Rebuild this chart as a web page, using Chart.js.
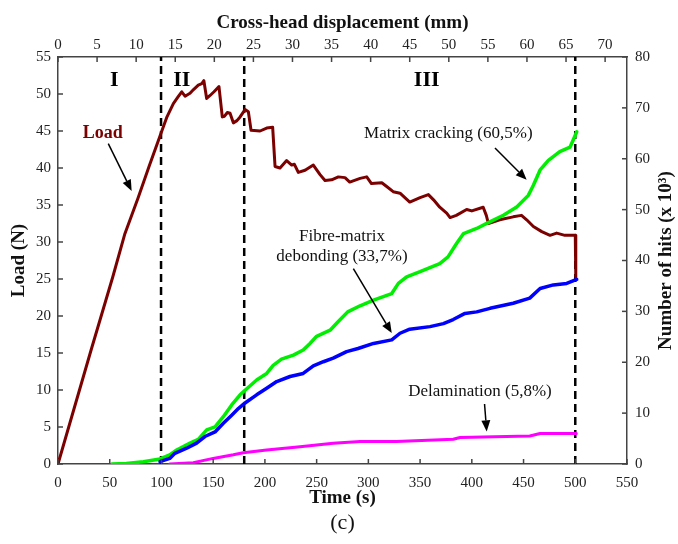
<!DOCTYPE html>
<html>
<head>
<meta charset="utf-8">
<script src="https://cdn.jsdelivr.net/npm/chart.js@4.4.1/dist/chart.umd.min.js"></script>
<style>
  html, body { margin: 0; padding: 0; background: #fff; }
  canvas { display: block; }
</style>
</head>
<body>
<canvas id="chart" width="678" height="544"></canvas>
<script>
// load curve (time in s, load in N)
const loadTime = [0, 32, 53, 64.4, 77.3, 88, 99.3, 105, 111.5, 116, 119.6, 122.8, 127.6, 131, 135.6, 139, 141,
  143.7, 147, 150.8, 155.6, 158.8, 161, 163.7, 166.3, 169.5, 173, 176, 180.8, 184, 186.6, 195.3, 201.7, 207.5,
  209.8, 214.6, 221, 225.9, 228.5, 232.3, 238.8, 246.8, 253.3, 258.1, 264.5, 271, 277.4, 282, 292, 298.4, 303,
  313, 317.7, 324, 330.6, 340, 350, 358, 363, 369, 375.7, 379, 385, 395, 400, 411, 414, 416, 427, 440, 448, 453,
  459.5, 467.6, 475.6, 482, 490, 500, 500.5]
const loadN = [0, 15.4, 25.3, 31.0, 35.9, 40.2, 44.6, 46.8, 48.7, 49.6, 50.3, 49.7, 50.1, 50.6, 51.2, 51.4, 51.8,
  49.4, 49.8, 50.3, 51.0, 46.9, 47.0, 47.5, 47.4, 46.1, 46.4, 46.9, 47.9, 47.6, 45.1, 45.0, 45.4, 45.5,
  40.2, 40.0, 41.0, 40.4, 40.5, 39.4, 39.7, 40.4, 39.1, 38.3, 38.4, 38.8, 38.7, 38.1, 38.6, 38.8, 37.9,
  38.0, 37.5, 36.8, 36.6, 35.4, 36.0, 36.4, 35.7, 34.7, 33.9, 33.3, 33.6, 34.4, 34.2, 34.7, 33.6, 32.5, 33.0, 33.4, 33.6, 33.0,
  32.1, 31.4, 30.9, 31.2, 30.9, 30.9, 25.3]

// acoustic emission hits (x 10^3)
const crackTime = [52, 66, 82.5, 98.6, 108, 114.7, 127.6, 135.6, 143.7, 151.8, 159.8, 167.9, 176, 180.8, 192, 201.7,
  208, 216, 227.5, 237, 243.6, 250, 263, 270, 280, 292, 305, 322.6, 329, 337, 350, 369, 377, 385.4, 392, 404.7,
  414.4, 430.5, 443.4, 454.6, 459.5, 466, 474, 485, 495, 498, 501.4]
const crackHits = [0, 0.1, 0.45, 1.0, 1.8, 2.75, 4.1, 4.85, 6.7, 7.3, 9.3, 11.6, 13.6, 14.5, 16.5, 17.8,
  19.4, 20.6, 21.4, 22.4, 23.7, 25.1, 26.3, 27.8, 29.9, 31.1, 32.2, 33.5, 35.5, 36.8, 37.8, 39.4, 40.7, 43.4, 45.3, 46.3,
  47.3, 48.9, 50.5, 52.8, 54.8, 57.8, 59.7, 61.4, 62.3, 63.7, 65.3]

const debondTime = [98.6, 108, 113, 124.4, 134, 142, 151.8, 159.8, 167.9, 174.3, 180.8, 192, 201.7, 211.4, 224.3, 237,
  246.8, 256.5, 266, 279, 290, 305, 322.6, 330.6, 340, 359.6, 372.5, 382, 393.4, 404.7, 417.6, 440, 456, 466,
  478.8, 491.7, 501.4]
const debondHits = [0.45, 1.1, 2.1, 3.1, 4.1, 5.4, 6.3, 8.0, 9.6, 10.9, 12.0, 13.6, 14.9, 16.2, 17.2, 17.8,
  19.3, 20.1, 20.8, 22.1, 22.7, 23.7, 24.4, 25.7, 26.5, 27.0, 27.6, 28.4, 29.6, 29.9, 30.6, 31.6, 32.6, 34.5,
  35.2, 35.5, 36.3]

const delamTime = [108, 130.8, 150, 169.5, 179, 201.7, 234, 266, 292, 327, 382, 388.6, 456, 466, 501]
const delamHits = [0, 0.26, 1.1, 1.8, 2.2, 2.75, 3.4, 4.1, 4.4, 4.4, 4.85, 5.2, 5.5, 6.0, 6.0]

// stage boundaries (s)
const stageTimes = [99.6, 180, 500]

// annotations, in data units (time, load)
const notes = [
  { text: "I", t: 54.5, v: 51.9, font: "bold 22px 'Liberation Serif'", color: "#000" },
  { text: "II", t: 119.6, v: 51.9, font: "bold 22px 'Liberation Serif'", color: "#000" },
  { text: "III", t: 356.4, v: 51.9, font: "bold 22px 'Liberation Serif'", color: "#000" },
  { text: "Load", t: 43.2, v: 44.7, font: "bold 18px 'Liberation Serif'", color: "#7b0000" },
  { text: "Matrix cracking (60,5%)", t: 377.3, v: 44.7, font: "17px 'Liberation Serif'", color: "#111" },
  { text: "Fibre-matrix", t: 274.5, v: 30.8, font: "17px 'Liberation Serif'", color: "#111" },
  { text: "debonding (33,7%)", t: 274.5, v: 28.1, font: "17px 'Liberation Serif'", color: "#111" },
  { text: "Delamination (5,8%)", t: 407.9, v: 9.8, font: "17px 'Liberation Serif'", color: "#111" },
]
const arrows = [
  { t0: 48.6, v0: 43.3, t1: 71.2, v1: 36.9 },
  { t0: 422.4, v0: 42.7, t1: 453, v1: 38.4 },
  { t0: 285.5, v0: 26.4, t1: 322.6, v1: 17.7 },
  { t0: 412.3, v0: 8.1, t1: 414.4, v1: 4.4 },
]

const pts = (xs, ys) => xs.map((x, i) => ({ x, y: ys[i] }))

const serif = "'Liberation Serif', 'Times New Roman', serif"
const tickFont = { family: serif, size: 15 }
const titleFont = { family: serif, size: 19, weight: "bold" }
const axisColor = "#444"

const innerTicks = {
  id: "innerTicks",
  afterDatasetsDraw(chart) {
    const ctx = chart.ctx
    const area = chart.chartArea
    ctx.save()
    ctx.strokeStyle = axisColor
    ctx.lineWidth = 1.5
    Object.values(chart.scales).forEach((scale) => {
      scale.ticks.forEach((tk, i) => {
        const p = scale.getPixelForTick(i)
        ctx.beginPath()
        if (scale.position === "bottom") { ctx.moveTo(p, area.bottom); ctx.lineTo(p, area.bottom - 5) }
        if (scale.position === "top") { ctx.moveTo(p, area.top); ctx.lineTo(p, area.top + 5) }
        if (scale.position === "left") { ctx.moveTo(area.left, p); ctx.lineTo(area.left + 5, p) }
        if (scale.position === "right") { ctx.moveTo(area.right, p); ctx.lineTo(area.right - 5, p) }
        ctx.stroke()
      })
    })
    ctx.restore()
  },
}

const annotate = {
  id: "annotate",
  afterDraw(chart) {
    const ctx = chart.ctx
    const xs = chart.scales.x
    const ys = chart.scales.y
    const area = chart.chartArea
    ctx.save()
    ctx.textAlign = "center"
    ctx.textBaseline = "middle"
    notes.forEach((n) => {
      ctx.font = n.font
      ctx.fillStyle = n.color
      ctx.fillText(n.text, xs.getPixelForValue(n.t), ys.getPixelForValue(n.v))
    })
    ctx.strokeStyle = "#000"
    ctx.fillStyle = "#000"
    ctx.lineWidth = 1.5
    arrows.forEach((a) => {
      const x0 = xs.getPixelForValue(a.t0), y0 = ys.getPixelForValue(a.v0)
      const x1 = xs.getPixelForValue(a.t1), y1 = ys.getPixelForValue(a.v1)
      const ang = Math.atan2(y1 - y0, x1 - x0)
      const hl = 11, hw = 4.5
      ctx.beginPath()
      ctx.moveTo(x0, y0)
      ctx.lineTo(x1 - hl * Math.cos(ang), y1 - hl * Math.sin(ang))
      ctx.stroke()
      ctx.beginPath()
      ctx.moveTo(x1, y1)
      ctx.lineTo(x1 - hl * Math.cos(ang) + hw * Math.sin(ang), y1 - hl * Math.sin(ang) - hw * Math.cos(ang))
      ctx.lineTo(x1 - hl * Math.cos(ang) - hw * Math.sin(ang), y1 - hl * Math.sin(ang) + hw * Math.cos(ang))
      ctx.closePath()
      ctx.fill()
    })
    // right axis title reads bottom-to-top like the left one
    ctx.save()
    ctx.translate(chart.width - 12, (area.top + area.bottom) / 2)
    ctx.rotate(-Math.PI / 2)
    ctx.font = "bold 19px " + serif
    ctx.fillStyle = "#111"
    ctx.fillText("Number of hits (x 10³)", 0, 0)
    ctx.restore()
    ctx.font = "22px " + serif
    ctx.fillStyle = "#111"
    ctx.fillText("(c)", (area.left + area.right) / 2, chart.height - 21)
    ctx.restore()
  },
}

const stageLines = stageTimes.map((t) => ({
  data: [{ x: t, y: 0 }, { x: t, y: 55 }],
  borderColor: "#000",
  borderWidth: 2.5,
  borderDash: [8, 5],
  xAxisID: "x",
  yAxisID: "y",
}))

const curve = (xs, ys, color, width, axis) => ({
  data: pts(xs, ys),
  borderColor: color,
  borderWidth: width,
  xAxisID: "x",
  yAxisID: axis,
  borderJoinStyle: "round",
  borderCapStyle: "round",
})

const noGrid = { display: false, drawTicks: false }

new Chart(document.getElementById("chart"), {
  type: "line",
  data: {
    datasets: [
      curve(delamTime, delamHits, "#ff00ff", 3, "y1"),
      curve(debondTime, debondHits, "#0000ff", 3.5, "y1"),
      curve(crackTime, crackHits, "#00ee00", 3.5, "y1"),
      curve(loadTime, loadN, "#7b0000", 3, "y"),
      ...stageLines,
    ],
  },
  options: {
    animation: false,
    responsive: false,
    devicePixelRatio: 1,
    elements: { point: { radius: 0 }, line: { tension: 0 } },
    layout: { padding: 0 },
    plugins: {
      legend: { display: false },
      tooltip: { enabled: false },
    },
    scales: {
      x: {
        type: "linear",
        position: "bottom",
        min: 0,
        max: 550,
        ticks: { stepSize: 50, font: tickFont, color: "#222", padding: 10, maxRotation: 0 },
        grid: noGrid,
        border: { color: axisColor, width: 1.5 },
        title: { display: true, text: "Time (s)", font: titleFont, color: "#111", padding: { top: 0, bottom: 35 } },
        afterFit: (s) => { s.height = 80 },
      },
      x2: {
        type: "linear",
        position: "top",
        min: 0,
        max: 72.8,
        ticks: { stepSize: 5, includeBounds: false, font: tickFont, color: "#222", padding: 3, maxRotation: 0 },
        grid: noGrid,
        border: { color: axisColor, width: 1.5 },
        title: { display: true, text: "Cross-head displacement (mm)", font: titleFont, color: "#111", padding: { top: 12, bottom: 0 } },
        afterFit: (s) => { s.height = 57 },
      },
      y: {
        type: "linear",
        position: "left",
        min: 0,
        max: 55,
        ticks: { stepSize: 5, font: tickFont, color: "#222", padding: 7 },
        grid: noGrid,
        border: { color: axisColor, width: 1.5 },
        title: { display: true, text: "Load (N)", font: titleFont, color: "#111", padding: { top: 8, bottom: 0 } },
        afterFit: (s) => { s.width = 58 },
      },
      y1: {
        type: "linear",
        position: "right",
        min: 0,
        max: 80,
        ticks: { stepSize: 10, font: tickFont, color: "#222", padding: 8 },
        grid: noGrid,
        border: { color: axisColor, width: 1.5 },
        title: { display: false },
        afterFit: (s) => { s.width = 51 },
      },
    },
  },
  plugins: [innerTicks, annotate],
})
</script>
</body>
</html>
